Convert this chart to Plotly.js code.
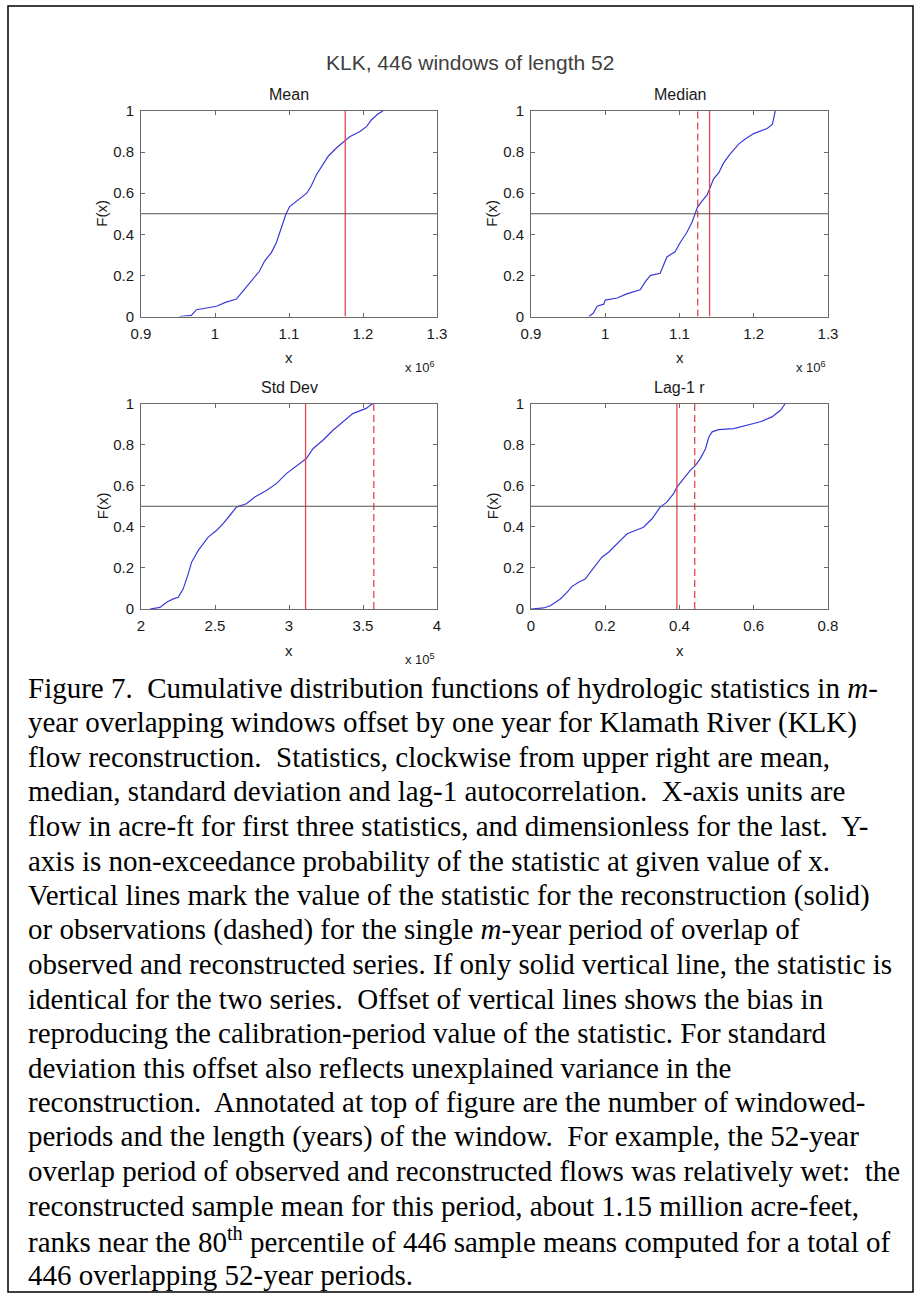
<!DOCTYPE html>
<html>
<head>
<meta charset="utf-8">
<script src="https://cdn.plot.ly/plotly-3.0.1.min.js"></script>
<style>
html,body{margin:0;padding:0;background:#fff;}
#chart{width:921px;height:1310px;}
</style>
</head>
<body>
<div id="chart"></div>
<script>
// ---------------- data ----------------
const figTitle = "KLK, 446 windows of length 52";
const panelTitles = ["Mean", "Median", "Std Dev", "Lag-1 r"];
const xTitle = "x";
const yTitle = "F(x)";

// Mean (x 10^6 acre-ft)
const meanX = [0.952,0.968,0.975,0.988,1.002,1.015,1.029,1.038,1.051,1.060,1.067,1.076,1.083,1.090,1.096,1.101,1.110,1.124,1.130,1.137,1.146,1.153,1.164,1.173,1.182,1.196,1.205,1.211,1.220,1.227];
const meanF = [0,0.005,0.033,0.04,0.05,0.07,0.085,0.125,0.18,0.22,0.27,0.31,0.36,0.43,0.50,0.535,0.56,0.60,0.635,0.69,0.74,0.78,0.82,0.85,0.875,0.90,0.925,0.955,0.985,1.0];
const meanRecon = 1.176;

// Median (x 10^6 acre-ft)
const medianX = [0.978,0.984,0.989,0.998,1.000,1.016,1.029,1.047,1.054,1.061,1.074,1.079,1.083,1.094,1.101,1.110,1.117,1.121,1.124,1.130,1.137,1.141,1.146,1.153,1.159,1.168,1.180,1.189,1.200,1.218,1.225,1.229];
const medianF = [0,0.017,0.05,0.06,0.08,0.09,0.11,0.13,0.17,0.20,0.21,0.26,0.29,0.315,0.36,0.41,0.46,0.50,0.53,0.56,0.59,0.625,0.67,0.70,0.745,0.79,0.84,0.865,0.89,0.915,0.935,1.0];
const medianRecon = 1.1405;
const medianObs = 1.1245;

// Std Dev (x 10^5 acre-ft)
const stdX = [2.061,2.128,2.173,2.218,2.252,2.285,2.319,2.342,2.387,2.420,2.454,2.510,2.555,2.600,2.645,2.712,2.769,2.847,2.915,2.982,3.072,3.117,3.162,3.229,3.297,3.375,3.431,3.521,3.566];
const stdF = [0,0.008,0.033,0.049,0.057,0.098,0.171,0.228,0.285,0.317,0.35,0.382,0.415,0.455,0.496,0.512,0.545,0.577,0.61,0.659,0.707,0.732,0.78,0.821,0.87,0.919,0.951,0.976,1.0];
const stdRecon = 3.112;
const stdObs = 3.573;

// Lag-1 autocorrelation (dimensionless)
const lagX = [0,0.034,0.052,0.079,0.097,0.110,0.128,0.146,0.160,0.178,0.191,0.209,0.223,0.241,0.259,0.281,0.303,0.326,0.348,0.366,0.384,0.393,0.411,0.429,0.443,0.456,0.470,0.479,0.488,0.505,0.546,0.582,0.618,0.649,0.672,0.685];
const lagF = [0,0.005,0.016,0.049,0.081,0.109,0.130,0.146,0.179,0.220,0.252,0.276,0.301,0.333,0.366,0.382,0.398,0.439,0.496,0.520,0.561,0.593,0.634,0.675,0.699,0.732,0.780,0.837,0.862,0.873,0.878,0.894,0.911,0.935,0.967,1.0];
const lagRecon = 0.393;
const lagObs = 0.441;

const xRanges = [[0.9,1.3],[0.9,1.3],[2,4],[0,0.8]];
const xTicks = [[0.9,1,1.1,1.2,1.3],[0.9,1,1.1,1.2,1.3],[2,2.5,3,3.5,4],[0,0.2,0.4,0.6,0.8]];
const yTicks = [0,0.2,0.4,0.6,0.8,1];
const expLabels = ["6","6","5",null];
const medianLine = 0.5;

const captionLines = [
  "Figure 7.\u00a0 Cumulative distribution functions of hydrologic statistics in <i>m</i>-",
  "year overlapping windows offset by one year for Klamath River (KLK)",
  "flow reconstruction.\u00a0 Statistics, clockwise from upper right are mean,",
  "median, standard deviation and lag-1 autocorrelation.\u00a0 X-axis units are",
  "flow in acre-ft for first three statistics, and dimensionless for the last.\u00a0 Y-",
  "axis is non-exceedance probability of the statistic at given value of x.",
  "Vertical lines mark the value of the statistic for the reconstruction (solid)",
  "or observations (dashed) for the single <i>m</i>-year period of overlap of",
  "observed and reconstructed series. If only solid vertical line, the statistic is",
  "identical for the two series.\u00a0 Offset of vertical lines shows the bias in",
  "reproducing the calibration-period value of the statistic. For standard",
  "deviation this offset also reflects unexplained variance in the",
  "reconstruction.\u00a0 Annotated at top of figure are the number of windowed-",
  "periods and the length (years) of the window.\u00a0 For example, the 52-year",
  "overlap period of observed and reconstructed flows was relatively wet:\u00a0 the",
  "reconstructed sample mean for this period, about 1.15 million acre-feet,",
  "ranks near the 80<sup>th</sup> percentile of 446 sample means computed for a total of",
  "446 overlapping 52-year periods."
];

// ---------------- layout geometry ----------------
const W = 921, H = 1310;
const px = v => v / W;
const py = v => 1 - v / H;
const colX = [[141, 437], [531, 828]];
const rowY = [[111, 316.5], [403.5, 609]];

const curves = [[meanX, meanF], [medianX, medianF], [stdX, stdF], [lagX, lagF]];
const solidLines = [meanRecon, medianRecon, stdRecon, lagRecon];
const dashedLines = [null, medianObs, stdObs, lagObs];

const SANS = "Liberation Sans, Arial, Helvetica, sans-serif";
const SERIF = "Liberation Serif, Times New Roman, serif";
const axCol = "#6a6a6a";
const txtCol = "#1a1a1a";
const blue = "#3a3ad8";
const red = "#e3474d";

const traces = [];
const layout = {
  width: W, height: H,
  margin: {l: 0, r: 0, t: 0, b: 0},
  paper_bgcolor: "#fff", plot_bgcolor: "#fff",
  showlegend: false,
  annotations: [], shapes: []
};

function note(text, x, y, opts) {
  layout.annotations.push(Object.assign({
    text: text, xref: "paper", yref: "paper", x: px(x), y: py(y),
    xanchor: "center", yanchor: "middle", showarrow: false
  }, opts));
}

for (let i = 0; i < 4; i++) {
  const r = Math.floor(i / 2), c = i % 2;
  const xa = i === 0 ? "x" : "x" + (i + 1);
  const ya = i === 0 ? "y" : "y" + (i + 1);
  const xk = i === 0 ? "xaxis" : "xaxis" + (i + 1);
  const yk = i === 0 ? "yaxis" : "yaxis" + (i + 1);
  const xr = xRanges[i];

  layout[xk] = {
    domain: [px(colX[c][0]), px(colX[c][1])],
    anchor: ya, range: xr, fixedrange: true,
    tickmode: "array", tickvals: xTicks[i],
    showline: true, linecolor: axCol, linewidth: 1, mirror: "ticks",
    ticks: "inside", ticklen: 4, tickcolor: axCol, tickwidth: 1,
    showgrid: false, zeroline: false,
    ticklabelstandoff: 3,
    tickfont: {family: SANS, size: 15, color: txtCol}
  };
  layout[yk] = {
    domain: [py(rowY[r][1]), py(rowY[r][0])],
    anchor: xa, range: [0, 1], fixedrange: true,
    tickmode: "array", tickvals: yTicks,
    showline: true, linecolor: axCol, linewidth: 1, mirror: "ticks",
    ticks: "inside", ticklen: 4, tickcolor: axCol, tickwidth: 1,
    showgrid: false, zeroline: false,
    ticklabelstandoff: 3,
    tickfont: {family: SANS, size: 15, color: txtCol}
  };

  // horizontal 0.5 reference line
  layout.shapes.push({
    type: "line", xref: xa + " domain", yref: ya,
    x0: 0, x1: 1, y0: medianLine, y1: medianLine,
    line: {color: "#555", width: 1.2}
  });

  // CDF curve
  traces.push({
    x: curves[i][0], y: curves[i][1], xaxis: xa, yaxis: ya,
    type: "scatter", mode: "lines", line: {color: blue, width: 1.2},
    hoverinfo: "skip"
  });
  // reconstruction (solid)
  traces.push({
    x: [solidLines[i], solidLines[i]], y: [0, 1], xaxis: xa, yaxis: ya,
    type: "scatter", mode: "lines", line: {color: red, width: 1.3},
    hoverinfo: "skip"
  });
  // observations (dashed)
  if (dashedLines[i] !== null) {
    traces.push({
      x: [dashedLines[i], dashedLines[i]], y: [0, 1], xaxis: xa, yaxis: ya,
      type: "scatter", mode: "lines", line: {color: red, width: 1.3, dash: "7px,4px"},
      hoverinfo: "skip"
    });
  }

  const cx = (colX[c][0] + colX[c][1]) / 2;
  const cy = (rowY[r][0] + rowY[r][1]) / 2;
  // panel title
  note(panelTitles[i], cx, rowY[r][0] - 16, {font: {family: SANS, size: 16, color: txtCol}});
  // axis titles
  note(xTitle, cx, rowY[r][1] + 41, {font: {family: SANS, size: 15, color: txtCol}});
  note(yTitle, colX[c][0] - 39, cy, {textangle: -90, font: {family: SANS, size: 15, color: txtCol}});

  // exponent label
  if (expLabels[i]) {
    note("x 10<sup>" + expLabels[i] + "</sup>", colX[c][1] - 34, rowY[r][1] + 50,
      {xanchor: "left", font: {family: SANS, size: 13, color: txtCol}});
  }
}

// figure title
note(figTitle, 470, 63, {font: {family: SANS, size: 21, color: "#404040"}});

// caption
captionLines.forEach((t, k) => {
  note(t, 26, 688 + k * 34.5, {xanchor: "left", align: "left",
    font: {family: SERIF, size: 29, color: "#000"}});
});

// outer frame
layout.shapes.push({
  type: "rect", xref: "paper", yref: "paper",
  x0: px(8), x1: px(913), y0: py(1292), y1: py(6),
  line: {color: "#000", width: 1.5}, fillcolor: "rgba(0,0,0,0)"
});

Plotly.newPlot("chart", traces, layout, {staticPlot: true, displayModeBar: false});
</script>
</body>
</html>
